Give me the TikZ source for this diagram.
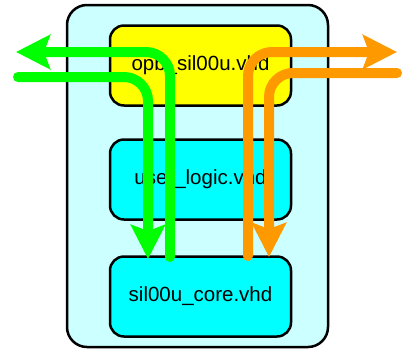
\documentclass[tikz,border=0pt]{standalone}
\usepackage{fontspec}
\setmainfont{Liberation Sans}
\usetikzlibrary{arrows.meta}
\definecolor{gr}{HTML}{00FF00}
\definecolor{org}{HTML}{FF9900}
\definecolor{lcyan}{HTML}{CCFFFF}
\definecolor{cyn}{HTML}{00FFFF}
\definecolor{yel}{HTML}{FFFF00}
\tikzset{
  box/.style={draw=black, line width=2.5pt, rounded corners=14pt, minimum width=181pt, minimum height=80pt, font=\fontsize{20.5}{24}\selectfont, inner sep=0pt},
  flow/.style={line width=10pt, line cap=round, rounded corners=24pt, -{Stealth[length=34pt 0 0,width=34pt 0 0,inset=6pt 0 0]}},
}
\begin{document}
\begin{tikzpicture}[x=1pt,y=-1pt]
\useasboundingbox (0,0) rectangle (411,349);
\draw[line width=2.5pt, fill=lcyan, rounded corners=20pt] (67,5) rectangle (328,347);
\node[box, fill=yel] (opb) at (200.5,65.5) {opb\_sil00u.vhd};
\node[box, fill=cyn] (user) at (200.5,179.5) {user\_logic.vhd};
\node[box, fill=cyn] (core) at (200.5,296.5) {sil00u\_core.vhd};
% green
\coordinate (g1s) at (170,257);
\coordinate (g1c) at (170,52);
\coordinate (g1e) at (16,52);
\coordinate (g2s) at (18,77);
\coordinate (g2c) at (148,77);
\coordinate (g2e) at (148,259);
\draw[flow, gr] (g1s) -- (g1c) -- (g1e);
\draw[flow, gr] (g2s) -- (g2c) -- (g2e);
% orange
\coordinate (o1s) at (248,256);
\coordinate (o1c) at (248,52);
\coordinate (o1e) at (397,52);
\coordinate (o2s) at (397,73);
\coordinate (o2c) at (269,73);
\coordinate (o2e) at (269,257);
\draw[flow, org] (o1s) -- (o1c) -- (o1e);
\draw[flow, org] (o2s) -- (o2c) -- (o2e);
\end{tikzpicture}
\end{document}
